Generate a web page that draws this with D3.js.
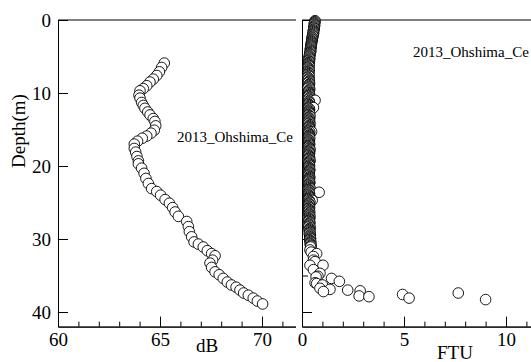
<!DOCTYPE html>
<html>
<head>
<meta charset="utf-8">
<script src="https://cdn.jsdelivr.net/npm/d3@7"></script>
<style>
  body { margin: 0; background: #fff; }
  svg { display: block; }
  .axis path, .axis line { stroke: #000; stroke-width: 1; }
</style>
</head>
<body>
<div id="chart"></div>
<script>
// left panel: backscatter (dB) by depth
const dbDepth = [5.9, 6.5, 7.1, 7.6, 8.1, 8.5, 9.0, 9.4, 9.7, 10.3,
  10.7, 11.3, 11.7, 12.1, 12.6, 13.0, 13.5, 13.9, 14.5, 15.1,
  15.5, 15.9, 16.2, 16.6, 17.0, 17.6, 18.1, 18.7, 19.3, 19.7,
  20.3, 21.0, 21.7, 22.4, 23.1, 23.5, 24.0, 24.6, 25.1, 25.7,
  26.3, 26.9, 27.6, 28.3, 29.0, 29.7, 30.4, 30.7, 31.1, 31.6,
  32.0, 32.3, 32.9, 33.3, 33.9, 34.5, 34.9, 35.4, 35.9, 36.3,
  36.6, 37.0, 37.4, 37.7, 38.1, 38.5, 38.9];
const dbValue = [65.21, 65.08, 64.97, 64.84, 64.67, 64.51, 64.35, 64.18, 64.02, 63.97,
  64.02, 64.1, 64.18, 64.26, 64.4, 64.51, 64.67, 64.75, 64.79, 64.72,
  64.56, 64.35, 64.13, 63.9, 63.74, 63.74, 63.81, 63.87, 63.94, 63.94,
  64.1, 64.22, 64.31, 64.43, 64.59, 64.84, 65.03, 65.25, 65.46, 65.62,
  65.74, 65.9, 66.31, 66.39, 66.44, 66.55, 66.67, 66.88, 67.12, 67.32,
  67.53, 67.7, 67.58, 67.45, 67.53, 67.7, 67.9, 68.1, 68.3, 68.5,
  68.73, 68.92, 69.1, 69.33, 69.57, 69.77, 70.03];

// right panel: turbidity (FTU) by depth
const ftuDepth = [0.1, 0.35, 0.6, 0.85, 1.1, 1.35, 1.6, 1.85, 2.1, 2.35, 2.6, 2.85,
  3.1, 3.35, 3.6, 3.85, 4.1, 4.35, 4.6, 4.85, 5.1, 5.35, 5.6, 5.85,
  6.1, 6.35, 6.6, 6.85, 7.1, 7.35, 7.6, 7.85, 8.1, 8.35, 8.6, 8.85,
  9.1, 9.35, 9.6, 9.85, 10.1, 10.35, 10.6, 10.85, 11.1, 11.35, 11.6, 11.85,
  12.1, 12.35, 12.6, 12.85, 13.1, 13.35, 13.6, 13.85, 14.1, 14.35, 14.6, 14.85,
  15.1, 15.35, 15.6, 15.85, 16.1, 16.35, 16.6, 16.85, 17.1, 17.35, 17.6, 17.85,
  18.1, 18.35, 18.6, 18.85, 19.1, 19.35, 19.6, 19.85, 20.1, 20.35, 20.6, 20.85,
  21.1, 21.35, 21.6, 21.85, 22.1, 22.35, 22.6, 22.85, 23.1, 23.35, 23.6, 23.85,
  24.1, 24.35, 24.6, 24.85, 25.1, 25.35, 25.6, 25.85, 26.1, 26.35, 26.6, 26.85,
  27.1, 27.35, 27.6, 27.85, 28.1, 28.35, 28.6, 28.85, 29.1, 29.35, 29.6, 29.85,
  30.1, 30.35, 30.6, 30.85, 31.1,
  11.0, 12.0, 15.3, 23.6, 24.7,
  31.5, 31.8, 32.0, 32.4, 32.9, 33.1, 33.6, 33.6, 34.2, 34.7,
  35.1, 35.2, 35.4, 35.8, 36.0, 36.1, 36.3, 36.75, 36.9, 37.2,
  37.0, 37.1, 37.8, 37.9, 37.6, 38.1, 37.4, 38.3];
const ftuValue = [0.64, 0.62, 0.6, 0.61, 0.58, 0.57, 0.55, 0.56, 0.52, 0.5, 0.49, 0.48,
  0.46, 0.45, 0.44, 0.42, 0.41, 0.42, 0.38, 0.37, 0.36, 0.38, 0.33, 0.34,
  0.32, 0.35, 0.31, 0.33, 0.3, 0.34, 0.32, 0.29, 0.33, 0.36, 0.31, 0.34,
  0.33, 0.3, 0.35, 0.32, 0.36, 0.34, 0.38, 0.33, 0.35, 0.37, 0.34, 0.36,
  0.33, 0.36, 0.34, 0.38, 0.35, 0.33, 0.37, 0.34, 0.36, 0.39, 0.35, 0.37,
  0.34, 0.38, 0.33, 0.36, 0.35, 0.32, 0.36, 0.34, 0.37, 0.33, 0.35, 0.38,
  0.34, 0.36, 0.33, 0.37, 0.35, 0.38, 0.34, 0.36, 0.33, 0.35, 0.37, 0.34,
  0.36, 0.33, 0.38, 0.35, 0.34, 0.37, 0.33, 0.36, 0.39, 0.35, 0.34, 0.37,
  0.35, 0.38, 0.33, 0.36, 0.34, 0.37, 0.35, 0.33, 0.36, 0.38, 0.34, 0.36,
  0.35, 0.37, 0.34, 0.38, 0.36, 0.33, 0.37, 0.35, 0.39, 0.36, 0.38, 0.4,
  0.38, 0.42, 0.4, 0.44, 0.42,
  0.64, 0.56, 0.47, 0.84, 0.5,
  0.39, 0.45, 0.72, 0.56, 0.56, 0.64, 1.03, 0.39, 0.56, 0.88,
  0.78, 0.69, 1.45, 1.83, 0.64, 0.72, 1.0, 0.88, 1.37, 1.05,
  2.24, 2.85, 2.8, 3.28, 4.93, 5.25, 7.66, 9.0];

// in-between samples of the dense upper column
const ftuDepthB = [0.22, 0.47, 0.72, 0.97, 1.22, 1.47, 1.72, 1.97, 2.22, 2.47, 2.72, 2.97,
  3.22, 3.47, 3.72, 3.97, 4.22, 4.47, 4.72, 4.97, 5.22, 5.47, 5.72, 5.97,
  6.22, 6.47, 6.72, 6.97, 7.22, 7.47, 7.72, 7.97, 8.22, 8.47, 8.72, 8.97,
  9.22, 9.47, 9.72, 9.97, 10.22, 10.47, 10.72, 10.97, 11.22, 11.47, 11.72, 11.97,
  12.22, 12.47, 12.72, 12.97, 13.22, 13.47, 13.72, 13.97, 14.22, 14.47, 14.72, 14.97,
  15.22, 15.47, 15.72, 15.97, 16.22, 16.47, 16.72, 16.97, 17.22, 17.47, 17.72, 17.97,
  18.22, 18.47, 18.72, 18.97, 19.22, 19.47, 19.72, 19.97, 20.22, 20.47, 20.72, 20.97,
  21.22, 21.47, 21.72, 21.97, 22.22, 22.47, 22.72, 22.97, 23.22, 23.47, 23.72, 23.97,
  24.22, 24.47, 24.72, 24.97, 25.22, 25.47, 25.72, 25.97, 26.22, 26.47, 26.72, 26.97,
  27.22, 27.47, 27.72, 27.97, 28.22, 28.47, 28.72, 28.97, 29.22, 29.47, 29.72, 29.97,
  30.22, 30.47, 30.72, 30.97];
const ftuValueB = [0.63, 0.61, 0.62, 0.59, 0.6, 0.56, 0.57, 0.53, 0.54, 0.51, 0.5, 0.47,
  0.47, 0.44, 0.45, 0.41, 0.43, 0.39, 0.4, 0.36, 0.37, 0.35, 0.36, 0.32,
  0.34, 0.3, 0.33, 0.35, 0.32, 0.3, 0.35, 0.33, 0.31, 0.34, 0.37, 0.32,
  0.35, 0.38, 0.32, 0.34, 0.37, 0.33, 0.35, 0.39, 0.34, 0.32, 0.36, 0.35,
  0.37, 0.34, 0.36, 0.33, 0.39, 0.35, 0.34, 0.38, 0.33, 0.36, 0.34, 0.38,
  0.36, 0.33, 0.37, 0.35, 0.38, 0.34, 0.33, 0.37, 0.35, 0.36, 0.39, 0.34,
  0.37, 0.33, 0.36, 0.34, 0.39, 0.35, 0.33, 0.37, 0.35, 0.38, 0.34, 0.36,
  0.34, 0.37, 0.35, 0.33, 0.38, 0.36, 0.35, 0.38, 0.34, 0.37, 0.36, 0.33,
  0.37, 0.34, 0.36, 0.39, 0.35, 0.33, 0.37, 0.36, 0.34, 0.35, 0.37, 0.39,
  0.36, 0.34, 0.38, 0.35, 0.37, 0.4, 0.36, 0.38, 0.37, 0.41, 0.39, 0.42,
  0.4, 0.43, 0.41, 0.45];

const depthTicks = [0, 10, 20, 30, 40];
const depthMinor = [5, 15, 25, 35];
const dbTicks = [60, 65, 70];
const ftuTicks = [0, 5, 10];
const stationName = '2013_Ohshima_Ce';

const W = 531, H = 362;
const plotTop = 20, plotBottom = 326.6;
const FONT = "'Liberation Serif', 'Times New Roman', Times, 'DejaVu Serif', serif";

let svg = d3.select('#chart').append('svg')
  .attr('width', W)
  .attr('height', H)
  .attr('font-family', FONT);

// shared depth scale
let y = d3.scaleLinear().domain([0, 42]).range([plotTop, plotBottom]);

let xDb = d3.scaleLinear().domain([60, 72]).range([58, 302.8]);
let xFtu = d3.scaleLinear().domain([0, 12]).range([302, 546.8]);

function styleText(sel, size) {
  sel.attr('font-family', FONT)
    .style('font-family', FONT)
    .style('font-size', size + 'px')
    .attr('fill', '#000');
}

function drawPanel(g, x, majors, minors, xLabel, labelPos, withYLabels, notePos, data) {
  let x0 = x.range()[0];

  // clip for markers and note
  let clipId = 'clip' + Math.round(x0);
  g.append('clipPath').attr('id', clipId)
    .append('rect')
    .attr('x', x0).attr('y', 0)
    .attr('width', W - x0).attr('height', plotBottom + 1);

  // top border
  g.append('line')
    .attr('x1', x0).attr('x2', x.range()[1])
    .attr('y1', plotTop).attr('y2', plotTop)
    .attr('stroke', '#000');

  // x axis (ticks pointing up)
  g.append('g').attr('class', 'axis')
    .attr('transform', 'translate(0,' + plotBottom + ')')
    .call(d3.axisBottom(x).tickValues(minors).tickSize(-5).tickSizeOuter(0).tickFormat(''));
  let xAxis = g.append('g').attr('class', 'axis')
    .attr('transform', 'translate(0,' + plotBottom + ')')
    .call(d3.axisBottom(x).tickValues(majors).tickSize(-10).tickSizeOuter(0).tickPadding(6));
  styleText(xAxis.selectAll('text'), 19);

  // y axis (ticks pointing right)
  g.append('g').attr('class', 'axis')
    .attr('transform', 'translate(' + x0 + ',0)')
    .call(d3.axisLeft(y).tickValues(withYLabels ? [] : depthMinor).tickSize(-6).tickSizeOuter(0).tickFormat(''));
  let yAxis = g.append('g').attr('class', 'axis')
    .attr('transform', 'translate(' + x0 + ',0)')
    .call(d3.axisLeft(y).tickValues(depthTicks).tickSize(-10).tickSizeOuter(0).tickPadding(7)
      .tickFormat(withYLabels ? d3.format('d') : ''));
  styleText(yAxis.selectAll('text'), 19);

  // x label
  g.append('text')
    .attr('x', labelPos[0]).attr('y', labelPos[1])
    .attr('text-anchor', 'middle')
    .call(styleText, 19)
    .text(xLabel);

  // station note
  g.append('text')
    .attr('clip-path', 'url(#' + clipId + ')')
    .attr('x', notePos[0]).attr('y', notePos[1])
    .call(styleText, 15)
    .text(stationName);

  // markers
  g.append('g')
    .attr('clip-path', 'url(#' + clipId + ')')
    .selectAll('circle')
    .data(data)
    .enter().append('circle')
    .attr('cx', function (d) { return x(d.v); })
    .attr('cy', function (d) { return y(d.depth); })
    .attr('r', 5.3)
    .attr('fill', '#fff')
    .attr('stroke', '#000')
    .attr('stroke-width', 0.9);
}

function pairUp(depths, values) {
  return depths.map(function (d, i) { return { depth: d, v: values[i] }; });
}

let leftData = pairUp(dbDepth, dbValue);
// column samples first, deep scatter drawn last
let rightData = pairUp(ftuDepthB, ftuValueB).concat(pairUp(ftuDepth, ftuValue))
  .sort(function (a, b) { return a.depth - b.depth; });

let left = svg.append('g');
drawPanel(left, xDb, dbTicks, d3.range(61, 73), 'dB', [207, 352], true, [177, 142], leftData);

// depth title
svg.append('text')
  .attr('transform', 'translate(25,131) rotate(-90)')
  .attr('text-anchor', 'middle')
  .call(styleText, 19)
  .text('Depth(m)');

// right panel sits on top of the left one
let right = svg.append('g');
right.append('rect')
  .attr('x', 296).attr('y', 0)
  .attr('width', W - 296).attr('height', 330)
  .attr('fill', '#fff');
drawPanel(right, xFtu, ftuTicks, d3.range(1, 13), 'FTU', [455, 359], false, [413, 57], rightData);
</script>
</body>
</html>
